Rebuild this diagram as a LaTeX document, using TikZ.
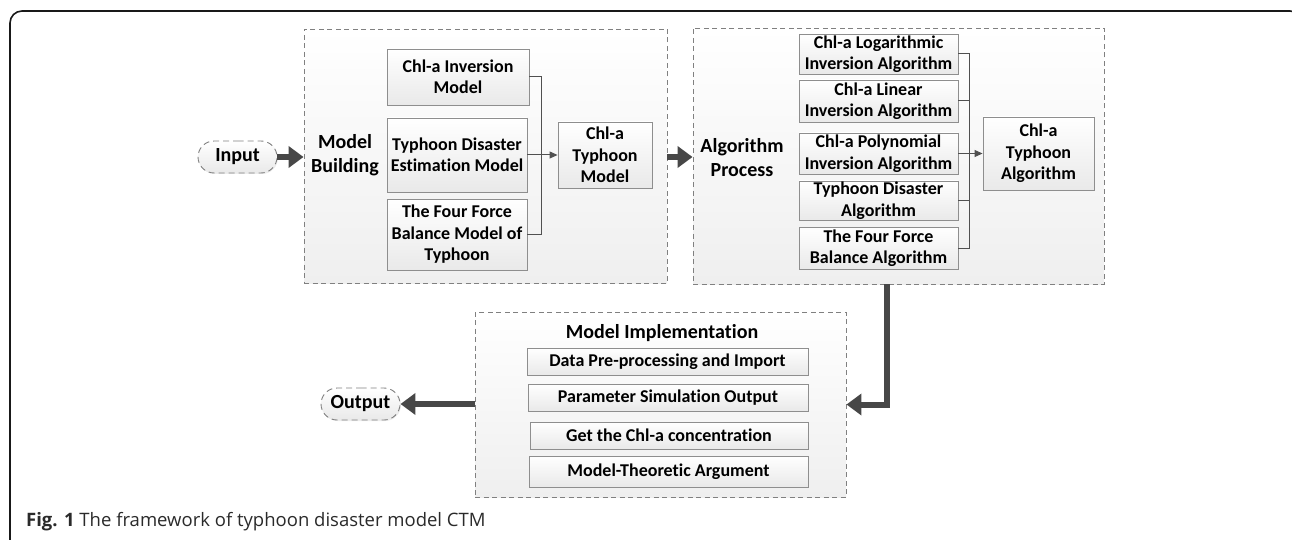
\documentclass[tikz,border=0pt]{standalone}
\usepackage{fontspec}
\setmainfont{Carlito}[Ligatures=NoCommon]
\newfontfamily\captionfamily{Open Sans}
\usetikzlibrary{arrows.meta,shapes.misc,shadows}

\definecolor{boxline}{HTML}{8E8E8E}
\definecolor{boxbot}{HTML}{E9E9E9}
\definecolor{contline}{HTML}{808080}
\definecolor{contbot}{HTML}{EFEFEF}
\definecolor{arrowgray}{HTML}{474747}
\definecolor{linegray}{HTML}{505050}
\definecolor{capcol}{HTML}{2A2A2A}

\newcommand{\boxfont}{\fontsize{18}{21.5}\selectfont\bfseries}
\newcommand{\headfont}{\fontsize{20}{24}\selectfont\bfseries}
\newcommand{\capfont}{\captionfamily\fontsize{18.5}{22}\selectfont}

\tikzset{
  frameline/.style={line width=1.6pt, draw=black!90},
  container/.style={draw=contline, dash pattern=on 5pt off 3.5pt, line width=0.9pt,
    top color=white, bottom color=contbot, inner sep=0pt},
  stepbox/.style={draw=boxline, line width=0.9pt, top color=white, bottom color=boxbot,
    align=center, font=\boxfont, text=black, inner sep=0pt,
    drop shadow={opacity=0.18, shadow xshift=1pt, shadow yshift=-1pt}},
  terminal/.style={rounded rectangle, draw=contline, dash pattern=on 6pt off 4pt,
    line width=0.9pt, top color=white, bottom color=boxbot, font=\headfont,
    inner sep=0pt, drop shadow={opacity=0.15, shadow xshift=1pt, shadow yshift=-1pt}},
  heading/.style={align=center, font=\headfont, inner sep=0pt},
  bigarrow/.style={line width=6pt, draw=arrowgray, line join=miter,
    -{Triangle[width=21pt,length=15pt]}},
  thinline/.style={line width=1pt, draw=linegray},
  thinarrow/.style={thinline, -{Triangle[width=7pt,length=8pt]}},
}

\begin{document}
\begin{tikzpicture}[x=1pt,y=-1pt]
\useasboundingbox (0,0) rectangle (1292,540);

% outer frame, open at the bottom and running past the right edge
\begin{scope}
  \clip (0,0) rectangle (1292,540);
  \draw[frameline, rounded corners=12pt] (10,560) |- (1302,11) -- (1302,560);
\end{scope}

% ---------- Model Building ----------
\node[container, minimum width=363pt, minimum height=254pt] (mb) at (485.5,156) {};
\node[heading] (mbl) at (345,155) {Model\\Building};
\node[stepbox, minimum width=142pt, minimum height=56pt] (m1) at (458,77) {Chl-a Inversion\\Model};
\node[stepbox, minimum width=140pt, minimum height=74pt] (m2) at (457,155) {Typhoon Disaster\\Estimation Model};
\node[stepbox, minimum width=140pt, minimum height=71pt] (m3) at (457,234.5) {The Four Force\\Balance Model of\\Typhoon};
\node[stepbox, minimum width=94pt, minimum height=66pt] (ctm) at (605,155) {Chl-a\\Typhoon\\Model};
\coordinate (mbus) at (541,0);

\draw[thinline] (m1.east) -- (m1.east -| mbus) -- (m3.east -| mbus) -- (m3.east);
\draw[thinarrow] (m2.east) -- (ctm.west);

% ---------- Algorithm Process ----------
\node[container, minimum width=411pt, minimum height=256pt] (ap) at (898.5,156) {};
\node[heading] (apl) at (742,158) {Algorithm\\Process};
\node[stepbox, minimum width=159pt, minimum height=40pt] (a1) at (878.5,54) {Chl-a Logarithmic\\Inversion Algorithm};
\node[stepbox, minimum width=159pt, minimum height=42pt] (a2) at (878.5,101) {Chl-a Linear\\Inversion Algorithm};
\node[stepbox, minimum width=159pt, minimum height=41pt] (a3) at (878.5,153.5) {Chl-a Polynomial\\Inversion Algorithm};
\node[stepbox, minimum width=159pt, minimum height=39pt] (a4) at (878.5,200.5) {Typhoon Disaster\\Algorithm};
\node[stepbox, minimum width=159pt, minimum height=42pt] (a5) at (878.5,248) {The Four Force\\Balance Algorithm};
\node[stepbox, minimum width=111pt, minimum height=73pt] (cta) at (1038.5,153.5) {Chl-a\\Typhoon\\Algorithm};
\coordinate (abus) at (969,0);

\draw[thinline] (a1.east) -- (a1.east -| abus) -- (a5.east -| abus) -- (a5.east);
\draw[thinline] (a2.east) -- (a2.east -| abus);
\draw[thinline] (a4.east) -- (a4.east -| abus);
\draw[thinarrow] (a3.east) -- (cta.west);

% ---------- Model Implementation ----------
\node[container, minimum width=371pt, minimum height=185pt] (mi) at (660.5,404.5) {};
\node[heading] (mit) at (662,333) {Model Implementation};
\node[stepbox, minimum width=281pt, minimum height=27pt] (i1) at (667.5,361.5) {Data Pre-processing and Import};
\node[stepbox, minimum width=280pt, minimum height=27pt] (i2) at (668,397.5) {Parameter Simulation Output};
\node[stepbox, minimum width=278pt, minimum height=27pt] (i3) at (669,435.5) {Get the Chl-a concentration};
\node[stepbox, minimum width=279pt, minimum height=31pt] (i4) at (668.5,471.5) {Model-Theoretic Argument};

% ---------- terminals ----------
\node[terminal, minimum width=79pt, minimum height=32pt] (input) at (237.5,157) {Input};
\node[terminal, minimum width=79pt, minimum height=32pt] (output) at (360.5,404) {Output};

% ---------- main flow ----------
\coordinate (drop) at (887,0);
\draw[bigarrow] (input.east) -- (input.east -| mb.west);
\draw[bigarrow] (input.east -| mb.east) -- (input.east -| ap.west);
\draw[bigarrow] (ap.south -| drop) |- (mi.east);
\draw[bigarrow] (output.east -| mi.west) -- (output.east);

% ---------- caption ----------
\node[anchor=base west, font=\capfont, text=capcol, inner sep=0pt] (cap) at (26,526)
  {\textbf{Fig. 1} The framework of typhoon disaster model CTM};
\end{tikzpicture}
\end{document}
